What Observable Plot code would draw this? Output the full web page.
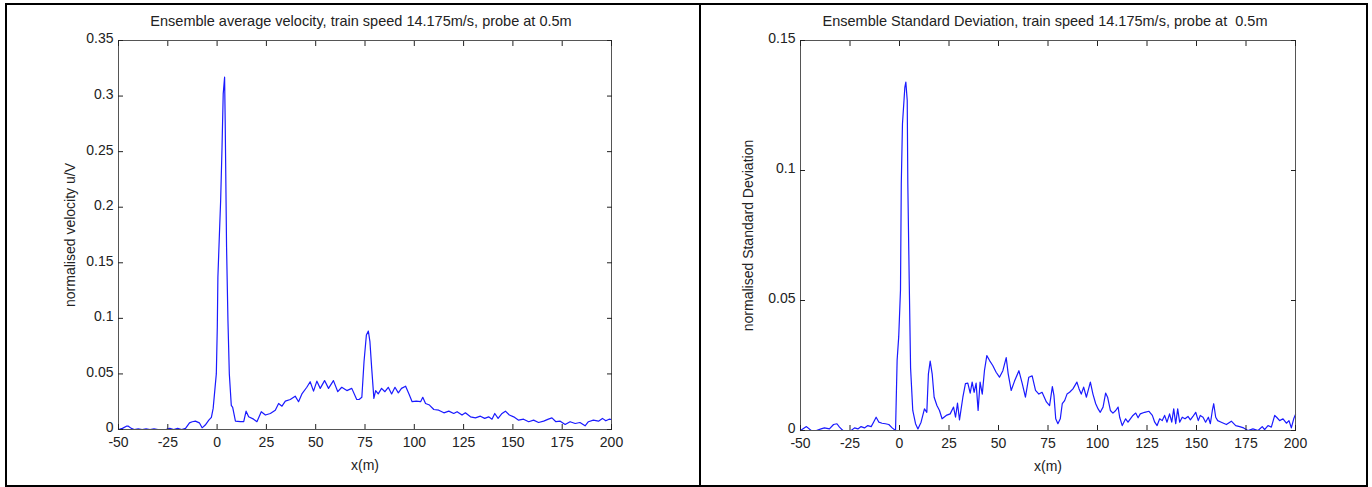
<!DOCTYPE html>
<html><head><meta charset="utf-8">
<script src="https://cdn.jsdelivr.net/npm/d3@7"></script>
<script src="https://cdn.jsdelivr.net/npm/@observablehq/plot@0.6"></script>
<style>
html,body{margin:0;padding:0;background:#fff;}
#page{position:relative;width:1372px;height:487px;overflow:hidden;font-family:"Liberation Sans",Arial,sans-serif;}
.panel{position:absolute;box-sizing:border-box;border:2px solid #000;}
.title{position:absolute;font-size:14.5px;line-height:16px;color:#222;white-space:pre;transform:translateX(-50%);}
.chart{position:absolute;top:0;}
</style></head><body><div id="page"></div>
<script>
// ---- data ----
const xTicks = [-50, -25, 0, 25, 50, 75, 100, 125, 150, 175, 200];
const velocityTicks = [0, 0.05, 0.1, 0.15, 0.2, 0.25, 0.3, 0.35];
const sdTicks = [0, 0.05, 0.1, 0.15];
const titles = [
  "Ensemble average velocity, train speed 14.175m/s, probe at 0.5m",
  "Ensemble Standard Deviation, train speed 14.175m/s, probe at  0.5m"
];
const yLabels = ["normalised velocity u/V", "normalised Standard Deviation"];
const xLabel = "x(m)";

// [x (m), normalised velocity]
const velocity = [
[-50,0],[-48,0.001],[-46,0.003],[-45,0.003],[-43.5,0.001],[-42,0],[-40,0.0005],[-38,0],[-36,0.0005],[-34,0],[-32,0.0005],[-30,0],[-26,0],[-24,0.001],[-22,0],[-20,0.001],[-18,0],[-16,0.001],[-14,0.006],[-12.6,0.007],[-11,0.0075],[-9,0.006],[-7.6,0.0015],[-6,0.004],[-4.2,0.0084],[-2.9,0.011],[-2,0.019],[-0.4,0.05],[0.1,0.092],[0.4,0.137],[1.3,0.182],[1.8,0.206],[2.5,0.254],[3.1,0.302],[3.8,0.317],[4.1,0.278],[4.8,0.164],[5.5,0.098],[6.2,0.05],[7.2,0.0216],[7.9,0.02],[9.3,0.0075],[11.8,0.007],[13.5,0.007],[14.7,0.0165],[16,0.0114],[18.5,0.0093],[20.2,0.007],[22.4,0.016],[24.5,0.013],[27,0.0144],[29.5,0.0174],[31.2,0.0234],[32.9,0.021],[34.6,0.0255],[37.1,0.027],[39.6,0.030],[41.3,0.025],[43,0.032],[45.5,0.038],[47.2,0.043],[48.9,0.0345],[50.6,0.0435],[52.3,0.037],[54.5,0.044],[56.5,0.037],[59,0.044],[61.2,0.034],[63.2,0.038],[65.8,0.035],[68.3,0.037],[70.8,0.027],[72,0.027],[73.4,0.029],[74.5,0.061],[75.7,0.085],[76.7,0.0885],[77.5,0.079],[78.4,0.055],[79.5,0.028],[80.4,0.035],[81.7,0.032],[83.4,0.037],[85.1,0.034],[86.8,0.038],[88.5,0.032],[90.2,0.038],[91.9,0.033],[93.5,0.037],[95.6,0.039],[97.3,0.032],[98.9,0.025],[101,0.0255],[103.2,0.025],[104.3,0.029],[105.7,0.0234],[107.7,0.022],[109.9,0.018],[112.4,0.0174],[115,0.015],[117.5,0.0165],[120,0.0144],[121.7,0.016],[124.2,0.013],[125.9,0.015],[128.5,0.0114],[131,0.0105],[133.5,0.012],[135.7,0.010],[137.7,0.0114],[139.4,0.0093],[140.8,0.0144],[142.5,0.010],[144.5,0.0144],[146.2,0.0165],[148.2,0.013],[150.4,0.0114],[152.9,0.0084],[155.4,0.0093],[158,0.007],[160.5,0.0084],[163,0.0063],[165.6,0.0075],[168,0.0093],[169.8,0.0105],[171.8,0.007],[174,0.0075],[176.5,0.0045],[179,0.007],[181.6,0.0054],[184,0.0063],[186.6,0.0033],[188.3,0.007],[190.8,0.0084],[193.4,0.0075],[195.4,0.010],[197.1,0.0078],[198.8,0.0093],[200,0.009]
];

// [x (m), normalised standard deviation]
const stdDev = [
[-50,0],[-47,0.0015],[-44.6,0],[-42,0],[-39.6,0.0006],[-37.9,0.001],[-35.4,0.0006],[-33.3,0.0023],[-31.6,0.0026],[-30.3,0.0013],[-28.6,0],[-24.4,0],[-22.7,0.001],[-21,0.0006],[-19.4,0.0015],[-17.7,0.001],[-16,0.0019],[-14.3,0.0015],[-13.1,0.0032],[-11.8,0.0051],[-10.4,0.0032],[-8.8,0.0028],[-7.1,0.0026],[-5.4,0.0023],[-3.7,0.001],[-2,0],[-1.2,0.027],[-0.4,0.036],[0.5,0.054],[0.9,0.095],[1.5,0.118],[2.7,0.132],[3.2,0.134],[3.9,0.127],[4.2,0.095],[4.9,0.058],[5.6,0.024],[6.7,0.0077],[8.1,0.0026],[9.3,0.0006],[10.9,0.0032],[12.6,0.0083],[13.8,0.007],[14.6,0.0218],[15.5,0.0267],[16.5,0.0218],[17.5,0.0128],[18.9,0.0096],[20.2,0.0077],[21.5,0.0045],[23.6,0.0058],[25.6,0.0064],[27.3,0.009],[28.3,0.0051],[29.3,0.0105],[30.3,0.0041],[32,0.0128],[33.3,0.018],[34.5,0.0182],[35.7,0.0144],[36.7,0.0186],[37.7,0.0147],[38.7,0.0182],[39.7,0.0077],[40.7,0.0186],[41.8,0.014],[42.9,0.023],[44.1,0.0288],[45.5,0.0269],[47.1,0.025],[48.8,0.0224],[50.5,0.0205],[52.2,0.023],[53.9,0.028],[54.9,0.0218],[56.4,0.0154],[58.1,0.019],[60.3,0.023],[62,0.018],[63.6,0.0128],[65.3,0.0205],[67,0.021],[68.7,0.0154],[70.4,0.014],[72,0.0147],[74.2,0.011],[75.8,0.0096],[77.2,0.0169],[78,0.0135],[78.9,0.0045],[80,0.0026],[81.2,0.0045],[82.2,0.0103],[83.4,0.0115],[84.6,0.014],[85.9,0.0147],[87.6,0.016],[89.6,0.0186],[90.7,0.016],[91.8,0.014],[93,0.0167],[94.4,0.0128],[96.4,0.0186],[97.7,0.014],[99.1,0.0103],[100.3,0.0083],[101.4,0.007],[102.8,0.009],[104.1,0.0144],[105.1,0.0128],[106.5,0.0077],[107.8,0.0067],[109.2,0.0077],[110.4,0.009],[111.2,0.0051],[112.5,0.0019],[114.2,0.0045],[115.4,0.0032],[116.6,0.0045],[117.9,0.0058],[119.3,0.0067],[120.5,0.0049],[121.6,0.0064],[123.8,0.007],[126,0.0074],[127.7,0.0058],[128.9,0.0032],[130.1,0.0019],[131.4,0.0045],[132.7,0.0038],[133.9,0.0058],[135.1,0.0032],[136.4,0.0064],[137.5,0.0032],[138.5,0.0083],[139.5,0.0026],[140.5,0.0083],[141.5,0.0032],[142.8,0.0051],[144.2,0.0045],[145.7,0.0054],[146.9,0.0041],[148.2,0.0054],[149.6,0.007],[150.9,0.0038],[151.9,0.0058],[153.3,0.0051],[154.6,0.0032],[156,0.0051],[157,0.0026],[158,0.0077],[158.7,0.0103],[159.7,0.0051],[160.7,0.0038],[162.5,0.0032],[165.1,0.0023],[167.6,0.0036],[169.8,0.0019],[171.8,0.0015],[173.8,0.001],[176,0],[178.5,0.0006],[181.1,0],[183.2,0.0015],[184.4,0.0003],[186.1,0.0019],[187.8,0.0013],[189.5,0.0058],[190.7,0.0049],[192,0.0038],[193.7,0.0045],[195.4,0.0028],[196.7,0.0038],[197.9,0.001],[199.1,0.0045],[200,0.0062]
];

// ---- layout ----
const page = document.getElementById("page");
function addDiv(cls, css, text) {
  const d = document.createElement("div");
  d.className = cls;
  Object.assign(d.style, css);
  if (text != null) d.textContent = text;
  page.appendChild(d);
  return d;
}
addDiv("panel", {left: "5px", top: "3px", width: "696px", height: "484px"});
addDiv("panel", {left: "699px", top: "3px", width: "669px", height: "484px"});

function chart({series, yDomain, yTicks, yLabel, left, width, margins, yLabelOffset}) {
  const fmt = d => String(d);
  const axisColor = "#555";
  const svg = Plot.plot({
    width, height: 487,
    marginLeft: margins[0], marginRight: margins[1], marginTop: margins[2], marginBottom: margins[3],
    style: {background: "transparent", fontFamily: "'Liberation Sans', Arial, sans-serif", fontSize: "14px", color: "#222", overflow: "visible"},
    x: {domain: [-50, 200]},
    y: {domain: yDomain},
    marks: [
      Plot.line(series, {x: d => d[0], y: d => d[1], stroke: "#1a1aff", strokeWidth: 1.2}),
      Plot.frame({stroke: axisColor, strokeWidth: 1}),
      Plot.axisX(xTicks, {anchor: "bottom", tickSize: 0, tickPadding: 7.5, tickFormat: fmt, label: xLabel, labelAnchor: "center", labelArrow: "none", labelOffset: 40, fill: "#222"}),
      Plot.axisX(xTicks, {anchor: "bottom", tickSize: -5, text: null, label: null, stroke: "#222"}),
      Plot.axisX(xTicks, {anchor: "top", tickSize: -5, text: null, label: null, stroke: "#222"}),
      Plot.axisY(yTicks, {anchor: "left", tickSize: 0, tickPadding: 5, dy: -1.5, tickFormat: fmt, label: yLabel, labelAnchor: "center", labelArrow: "none", labelOffset: yLabelOffset, fill: "#222"}),
      Plot.axisY(yTicks, {anchor: "left", tickSize: -5, text: null, label: null, stroke: "#222"}),
      Plot.axisY(yTicks, {anchor: "right", tickSize: -5, text: null, label: null, stroke: "#222"})
    ]
  });
  svg.classList.add("chart");
  svg.style.left = left + "px";
  page.appendChild(svg);
}

chart({series: velocity, yDomain: [0, 0.35], yTicks: velocityTicks, yLabel: yLabels[0], left: 0, width: 700, margins: [118, 89, 40, 58], yLabelOffset: 53});
chart({series: stdDev, yDomain: [0, 0.15], yTicks: sdTicks, yLabel: yLabels[1], left: 700, width: 672, margins: [100, 77, 40, 57], yLabelOffset: 57});

addDiv("title", {left: "361px", top: "13px"}, titles[0]);
addDiv("title", {left: "1045px", top: "13px"}, titles[1]);
</script></body></html>
